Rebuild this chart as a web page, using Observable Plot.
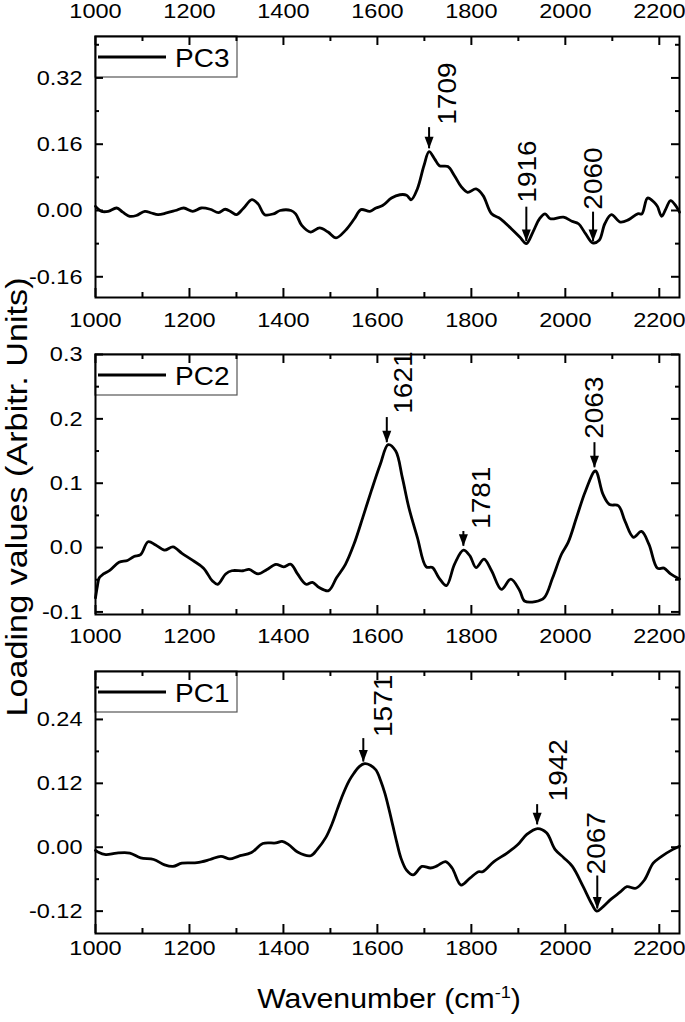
<!DOCTYPE html>
<html><head><meta charset="utf-8">
<script src="https://cdn.jsdelivr.net/npm/d3@7"></script>
<script src="https://cdn.jsdelivr.net/npm/@observablehq/plot@0.6"></script>
<style>
body{margin:0;background:#fff;}
#fig{position:relative;width:685px;height:1022px;font-family:"Liberation Sans",Arial,sans-serif;color:#000;overflow:hidden;background:#fff}
#fig svg{position:absolute;left:0;}
.ttl{position:absolute;white-space:nowrap;line-height:1;}
</style></head><body><div id="fig"></div>
<script>
// ---- data ----
const xDomain = [1000, 2243];
const xMajor = [1000, 1200, 1400, 1600, 1800, 2000, 2200];
const xMinor = [1100, 1300, 1500, 1700, 1900, 2100];
const legendNames = ["PC3", "PC2", "PC1"];

const pc3 = [[1000,0.010],[1013,-0.002],[1027,-0.002],[1045,0.006],[1058,-0.004],[1073,-0.014],[1087,-0.012],[1105,-0.002],[1119,-0.006],[1133,-0.010],[1151,-0.006],[1170,0.000],[1188,0.006],[1207,-0.002],[1225,0.006],[1244,0.003],[1262,-0.005],[1276,0.003],[1290,-0.004],[1300,-0.010],[1314,0.004],[1333,0.026],[1346,0.016],[1360,-0.010],[1379,-0.008],[1393,0.000],[1416,0.000],[1426,-0.008],[1439,-0.036],[1458,-0.052],[1477,-0.042],[1495,-0.052],[1512,-0.066],[1532,-0.048],[1551,-0.020],[1565,0.002],[1584,-0.002],[1597,0.006],[1611,0.012],[1630,0.030],[1648,0.038],[1662,0.037],[1672,0.026],[1685,0.052],[1699,0.108],[1710,0.142],[1722,0.124],[1732,0.108],[1750,0.106],[1764,0.084],[1778,0.058],[1792,0.044],[1810,0.052],[1825,0.036],[1843,-0.008],[1862,-0.020],[1885,-0.044],[1903,-0.064],[1917,-0.080],[1931,-0.052],[1945,-0.020],[1957,-0.008],[1968,-0.020],[1996,-0.016],[2014,-0.026],[2028,-0.032],[2043,-0.056],[2058,-0.078],[2072,-0.072],[2084,-0.032],[2098,-0.010],[2117,-0.028],[2135,-0.022],[2154,-0.008],[2163,-0.008],[2175,0.030],[2189,0.020],[2196,0.010],[2205,-0.014],[2214,0.004],[2224,0.024],[2236,0.010],[2243,-0.004]];

const pc2 = [[1000,-0.078],[1004,-0.060],[1008,-0.047],[1017,-0.041],[1031,-0.035],[1050,-0.023],[1068,-0.020],[1082,-0.014],[1096,-0.011],[1112,0.009],[1128,0.004],[1147,-0.004],[1165,0.001],[1184,-0.009],[1207,-0.020],[1230,-0.032],[1249,-0.052],[1260,-0.057],[1277,-0.041],[1290,-0.036],[1314,-0.036],[1327,-0.034],[1346,-0.041],[1365,-0.034],[1384,-0.026],[1400,-0.030],[1416,-0.026],[1430,-0.041],[1448,-0.057],[1462,-0.054],[1476,-0.062],[1496,-0.067],[1513,-0.047],[1532,-0.026],[1550,0.005],[1569,0.047],[1587,0.088],[1606,0.129],[1623,0.160],[1639,0.150],[1653,0.109],[1667,0.062],[1685,0.016],[1704,-0.030],[1717,-0.031],[1731,-0.047],[1747,-0.059],[1764,-0.026],[1783,-0.004],[1797,-0.013],[1810,-0.031],[1827,-0.018],[1843,-0.036],[1864,-0.065],[1884,-0.049],[1903,-0.067],[1913,-0.083],[1936,-0.084],[1955,-0.078],[1973,-0.047],[1992,-0.010],[2006,0.008],[2024,0.047],[2043,0.088],[2064,0.119],[2080,0.083],[2094,0.067],[2113,0.065],[2127,0.041],[2145,0.016],[2162,0.025],[2178,0.005],[2196,-0.032],[2210,-0.032],[2224,-0.041],[2243,-0.049]];

const pc1 = [[1000,-0.006],[1005,-0.009],[1022,-0.014],[1045,-0.011],[1073,-0.011],[1096,-0.020],[1124,-0.023],[1147,-0.033],[1165,-0.036],[1184,-0.030],[1216,-0.029],[1244,-0.023],[1267,-0.017],[1286,-0.022],[1304,-0.017],[1332,-0.010],[1356,0.007],[1384,0.008],[1397,0.011],[1411,0.005],[1430,-0.009],[1458,-0.016],[1472,-0.004],[1490,0.018],[1504,0.045],[1515,0.072],[1527,0.100],[1540,0.125],[1550,0.139],[1562,0.152],[1573,0.157],[1585,0.154],[1597,0.145],[1607,0.125],[1616,0.101],[1625,0.070],[1633,0.040],[1641,0.010],[1650,-0.020],[1662,-0.043],[1676,-0.052],[1695,-0.036],[1713,-0.039],[1727,-0.035],[1745,-0.027],[1759,-0.039],[1778,-0.071],[1797,-0.058],[1815,-0.046],[1824,-0.046],[1848,-0.027],[1876,-0.011],[1899,0.005],[1918,0.024],[1941,0.035],[1960,0.027],[1978,-0.004],[1997,-0.020],[2015,-0.036],[2038,-0.074],[2056,-0.106],[2067,-0.120],[2080,-0.112],[2098,-0.097],[2117,-0.084],[2131,-0.074],[2150,-0.077],[2168,-0.062],[2187,-0.030],[2205,-0.017],[2229,-0.004],[2243,0.002]];

const pc3YDomain = [-0.21, 0.42];
const pc3YMajor = [-0.16, 0, 0.16, 0.32];
const pc3YMinor = [-0.08, 0.08, 0.24, 0.40];
const pc2YDomain = [-0.104, 0.3];
const pc2YMajor = [-0.1, 0, 0.1, 0.2, 0.3];
const pc2YMinor = [-0.05, 0.05, 0.15, 0.25];
const pc1YDomain = [-0.162, 0.33];
const pc1YMajor = [-0.12, 0, 0.12, 0.24];
const pc1YMinor = [-0.06, 0.06, 0.18, 0.30];

// annotations: arrow at x from yTop down to yTip; label starts at (tx, ty)
const pc3Peaks = [
  {label:"1709", x:1710, yTop:0.200, yTip:0.149, tx:1751, ty:0.207},
  {label:"1916", x:1917, yTop:0.008, yTip:-0.075, tx:1921, ty:0.019},
  {label:"2060", x:2059, yTop:-0.004, yTip:-0.075, tx:2060, ty:0.002}
];
const pc2Peaks = [
  {label:"1621", x:1620, yTop:0.202, yTip:0.163, tx:1657, ty:0.208},
  {label:"1781", x:1783, yTop:0.025, yTip:0.002, tx:1823, ty:0.029},
  {label:"2063", x:2062, yTop:0.163, yTip:0.124, tx:2064, ty:0.169}
];
const pc1Peaks = [
  {label:"1571", x:1570, yTop:0.204, yTip:0.160, tx:1613, ty:0.207},
  {label:"1942", x:1940, yTop:0.080, yTip:0.042, tx:1987, ty:0.086},
  {label:"2067", x:2068, yTop:-0.054, yTip:-0.116, tx:2068, ty:-0.051}
];

// ---- drawing ----
const FONT = '"Liberation Sans", Arial, sans-serif';
const arrowHead = {draw(ctx) { ctx.moveTo(0, 0); ctx.lineTo(-4.5, -12); ctx.lineTo(4.5, -12); ctx.closePath(); }};

function legendMark(name) {
  return (index, scales, values, dims) => {
    const g = d3.create("svg:g");
    const x0 = dims.marginLeft, y0 = dims.marginTop;
    g.append("rect").attr("x", x0).attr("y", y0).attr("width", 142).attr("height", 41)
      .attr("fill", "white").attr("stroke", "#555").attr("stroke-width", 1.2);
    g.append("line").attr("x1", x0 + 3).attr("x2", x0 + 71).attr("y1", y0 + 21).attr("y2", y0 + 21)
      .attr("stroke", "black").attr("stroke-width", 2.8);
    g.append("text").attr("x", x0 + 80).attr("y", y0 + 22).attr("dy", "0.35em")
      .attr("text-anchor", "start").attr("font-size", 25).attr("fill", "black").text(name);
    return g.node();
  };
}

function panel({series, name, yDomain, yMajor, yMinor, yFmt, peaks, top, height, mTop, mBottom, topLabels, labelGap}) {
  const W = 685, mL = 95, mR = 6;
  const innerW = W - mL - mR, innerH = height - mTop - mBottom;
  const k = {stroke: "black", strokeWidth: 2};
  const marks = [
    Plot.line(series, {x: d => d[0], y: d => d[1], stroke: "black", strokeWidth: 2.8, curve: "catmull-rom"}),
    legendMark(name),
    Plot.ruleX(xMajor, {x: d => d, insetTop: innerH - 9, ...k}),
    Plot.ruleX(xMajor, {x: d => d, insetBottom: innerH - 9, ...k}),
    Plot.ruleX(xMinor, {x: d => d, insetTop: innerH - 5, ...k}),
    Plot.ruleX(xMinor, {x: d => d, insetBottom: innerH - 5, ...k}),
    Plot.ruleY(yMajor, {y: d => d, insetRight: innerW - 8, ...k}),
    Plot.ruleY(yMajor, {y: d => d, insetLeft: innerW - 8, ...k}),
    Plot.ruleY(yMinor, {y: d => d, insetRight: innerW - 4, ...k}),
    Plot.ruleY(yMinor, {y: d => d, insetLeft: innerW - 4, ...k}),
    Plot.frame({stroke: "black", strokeWidth: 2}),
    Plot.text(yMajor, {y: d => d, text: yFmt, frameAnchor: "left", textAnchor: "end", dx: -13, fontSize: 21, fill: "black"}),
    Plot.text(xMajor, {x: d => d, text: d => String(d), frameAnchor: "bottom", lineAnchor: "top", dy: labelGap, fontSize: 21, fill: "black"}),
    Plot.ruleX(peaks, {x: "x", y1: "yTop", y2: "yTip", stroke: "black", strokeWidth: 2}),
    Plot.dot(peaks, {x: "x", y: "yTip", symbol: arrowHead, r: 5, fill: "black", stroke: "none"}),
    Plot.text(peaks, {x: "tx", y: "ty", text: "label", rotate: -90, textAnchor: "start", fontSize: 25, fill: "black"})
  ];
  if (topLabels) marks.push(Plot.text(xMajor, {x: d => d, text: d => String(d), frameAnchor: "top", lineAnchor: "bottom", dy: -19, fontSize: 21, fill: "black"}));
  const svg = Plot.plot({
    width: W, height, marginLeft: mL, marginRight: mR, marginTop: mTop, marginBottom: mBottom,
    x: {domain: xDomain, axis: null},
    y: {domain: yDomain, axis: null},
    style: {fontFamily: FONT, background: "transparent", color: "black", overflow: "visible"},
    marks
  });
  svg.style.top = top + "px";
  return svg;
}

const fig = document.getElementById("fig");
const f2 = d => d.toFixed(2), f1 = d => d.toFixed(1);
fig.appendChild(panel({series: pc3, name: legendNames[0], yDomain: pc3YDomain, yMajor: pc3YMajor, yMinor: pc3YMinor, yFmt: f2, peaks: pc3Peaks, top: 0, height: 330, mTop: 36, mBottom: 33, topLabels: true, labelGap: 15}));
fig.appendChild(panel({series: pc2, name: legendNames[1], yDomain: pc2YDomain, yMajor: pc2YMajor, yMinor: pc2YMinor, yFmt: f1, peaks: pc2Peaks, top: 330, height: 330, mTop: 24, mBottom: 46, topLabels: false, labelGap: 14}));
fig.appendChild(panel({series: pc1, name: legendNames[2], yDomain: pc1YDomain, yMajor: pc1YMajor, yMinor: pc1YMinor, yFmt: f2, peaks: pc1Peaks, top: 660, height: 310, mTop: 11, mBottom: 37, topLabels: false, labelGap: 7}));

const yt = document.createElement("div");
yt.className = "ttl";
yt.style.cssText = "left:17px;top:496.5px;font-size:30px;transform:translate(-50%,-50%) rotate(-90deg) scaleX(1.14);";
yt.textContent = "Loading values (Arbitr. Units)";
fig.appendChild(yt);

const xt = document.createElement("div");
xt.className = "ttl";
xt.style.cssText = "left:389px;top:986px;font-size:27px;transform:translateX(-50%) scaleX(1.12);transform-origin:50% 50%;";
xt.innerHTML = 'Wavenumber (cm<span style="font-size:0.6em;position:relative;top:-0.6em">-1</span>)';
fig.appendChild(xt);

// widen glyphs slightly, as in the reference's typeface
const STRETCH = 1.12;
fig.querySelectorAll("svg text").forEach(t => {
  const L = t.getComputedTextLength();
  if (L > 0) { t.setAttribute("textLength", (L * STRETCH).toFixed(1)); t.setAttribute("lengthAdjust", "spacingAndGlyphs"); }
});
</script></body></html>
